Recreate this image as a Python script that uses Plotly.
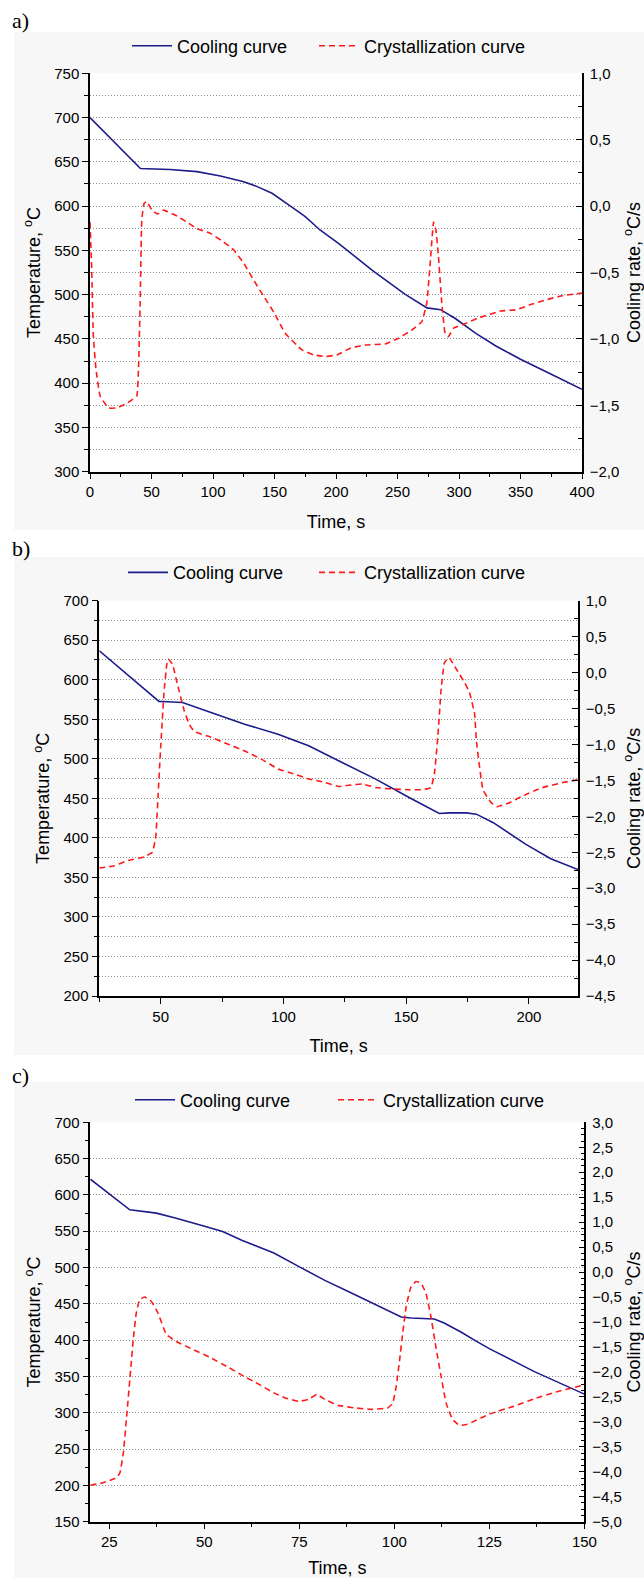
import plotly.graph_objects as go

# ---------------- data ----------------
# Panel a
ta_cool = [0, 41, 65, 87, 106, 125, 136, 148, 163, 175, 187, 202, 229, 256, 274, 285, 297, 314, 330, 350, 375, 400]
Ta_cool = [700, 642.5, 641.4, 638.9, 634, 627.5, 622, 614.5, 600, 588, 573, 558, 528, 500.5, 485, 483, 473, 456, 442, 427, 410, 393]
ta_cr = [0, 1.4, 2.7, 4.9, 8.2, 15, 21.7, 30, 38, 39.4, 40.8, 42.1, 44, 46.2, 50.3, 54.9, 59.8, 70.7, 78.8, 87, 97.8,
         108.7, 116.8, 125, 133, 141.3, 149.5, 158.7, 172.3, 181.8, 191.2, 200.7, 211.6, 223.7, 240, 250.8, 261.7,
         269.8, 273.8, 276.6, 279.3, 281.2, 283.3, 286, 288.7, 291.4, 295.5, 305, 315, 334, 347, 357, 371, 384, 400]
Ra_cr = [-0.12, -0.48, -0.98, -1.23, -1.43, -1.52, -1.52, -1.485, -1.43, -1.23, -0.73, -0.10, 0.02, 0.035, -0.03,
         -0.06, -0.03, -0.075, -0.12, -0.17, -0.205, -0.27, -0.33, -0.43, -0.556, -0.68, -0.80, -0.958, -1.083, -1.12,
         -1.133, -1.12, -1.07, -1.046, -1.038, -0.995, -0.933, -0.87, -0.73, -0.43, -0.12, -0.18, -0.38, -0.73, -0.958,
         -0.983, -0.92, -0.885, -0.845, -0.79, -0.78, -0.745, -0.705, -0.675, -0.655]

# Panel b
tb_cool = [25, 49.3, 52.7, 58.9, 70.5, 84.2, 97.8, 110.3, 123.9, 137.6, 151.2, 163.5, 167.6, 174.5, 178.6, 185.5, 198.8, 208.9, 220]
Tb_cool = [636.7, 572.6, 572.2, 571.3, 558.6, 543.8, 531.2, 516.4, 495.4, 474.3, 451.1, 430.8, 431.6, 431.6, 430, 419.2, 391.8, 373.6, 360]
tb_cr = [25, 30.9, 36.3, 43.2, 46.6, 48, 48.9, 50, 51.4, 52.5, 53, 54.8, 56.8, 59.6, 61.6, 63.7, 70.5, 77.3, 84.2, 91,
         97.8, 103.4, 110.3, 117.1, 122.6, 126.7, 132.1, 137.6, 144.4, 151.2, 156.7, 160.1, 161.5, 162.9, 164.2, 165.6,
         167.4, 170.4, 173.8, 175.8, 177.9, 178.6, 181.3, 184.6, 187.1, 192.1, 197.2, 205.5, 213.9, 220]
Rb_cr = [-2.72, -2.69, -2.62, -2.564, -2.50, -2.29, -1.74, -1.04, -0.253, 0.118, 0.188, 0.118, -0.16, -0.53, -0.717,
         -0.82, -0.90, -0.995, -1.09, -1.204, -1.34, -1.40, -1.48, -1.53, -1.585, -1.567, -1.55, -1.60, -1.62, -1.63,
         -1.63, -1.60, -1.41, -0.90, -0.25, 0.14, 0.21, 0.05, -0.14, -0.276, -0.58, -0.95, -1.63, -1.81, -1.866, -1.81,
         -1.72, -1.60, -1.53, -1.49]

# Panel c
tc_cool = [20, 30.4, 37.4, 42.6, 49.6, 54.8, 60, 65.3, 68.3, 74.8, 81.7, 88.7, 95.7, 101.8, 104.4, 110.5, 113.1, 117.5, 121.4, 125.1, 136.7, 150]
Tc_cool = [621.6, 579.5, 574.9, 568, 557.5, 549.7, 537.3, 526.8, 520, 501.6, 482.3, 464.9, 447.5, 431.9, 430.5, 429.1, 423.6, 411.3, 399, 388, 357, 325.7]
tc_cr = [20, 23.4, 26.9, 27.8, 28.7, 29.5, 30.4, 31.3, 32.1, 33, 34.3, 36.1, 37.8, 40, 42.6, 47, 51.3, 56.6, 60, 64.4,
         68.3, 71.3, 74.8, 77.4, 79.6, 81.7, 85.2, 89.6, 94, 98.3, 99.6, 100.5, 101.4, 102.2, 103.1, 104.4, 105.7, 107,
         108.3, 109.6, 110.9, 112.3, 113.6, 115.3, 117.1, 119.2, 125.1, 131.3, 136.7, 143.1, 150]
Rc_cr = [-4.27, -4.22, -4.12, -4.02, -3.62, -2.95, -2.15, -1.35, -0.82, -0.55, -0.50, -0.59, -0.82, -1.25, -1.39, -1.55,
         -1.70, -1.92, -2.07, -2.25, -2.42, -2.52, -2.59, -2.55, -2.45, -2.55, -2.67, -2.72, -2.75, -2.72, -2.62, -2.28,
         -1.75, -1.22, -0.69, -0.29, -0.19, -0.22, -0.42, -0.885, -1.49, -2.09, -2.62, -2.95, -3.07, -3.05, -2.84, -2.69,
         -2.54, -2.39, -2.26]

panel_labels = ["a)", "b)", "c)"]
names = ["Cooling curve", "Crystallization curve"]
x_title = "Time, s"
yl_title = "Temperature, <sup>o</sup>C"
yr_title = "Cooling rate, <sup>o</sup>C/s"

W, H = 644, 1578
BLUE = "#1c1c8a"
RED = "#ff1a1a"
GRID = "#8c8c8c"
FONT = "Liberation Sans, Arial, sans-serif"


def px_x(p):
    return p / W


def px_y(p):
    return 1 - p / H


panels = [
    dict(tc=ta_cool, Tc=Ta_cool, tr=ta_cr, Rr=Ra_cr, xr=[0, 400], xd=50, xm=25, yl=[300, 750], ym=25, yr=[-2, 1],
         rm=0.25, gridminor=True, xpx=(90, 582), ypx=(73.3, 471.7), leg_y=46, lab_y=21, leg_x=(177, 364), rstand=14),
    dict(tc=tb_cool, Tc=Tb_cool, tr=tb_cr, Rr=Rb_cr, xr=[25, 220], xd=50, xm=25, yl=[200, 700], ym=25, yr=[-4.5, 1],
         rm=0.25, gridminor=True, xpx=(99.3, 578), ypx=(600.7, 996), leg_y=572.7, lab_y=548, leg_x=(173, 364), rstand=14),
    dict(tc=tc_cool, Tc=Tc_cool, tr=tc_cr, Rr=Rc_cr, xr=[20, 150], xd=25, xm=12.5, yl=[150, 700], ym=25, yr=[-5, 3],
         rm=0.125, gridminor=False, xpx=(90.3, 584.4), ypx=(1122.3, 1521.7), leg_y=1100, lab_y=1075, leg_x=(180, 383),
         rstand=19),
]

bg_boxes = [(14, 32, 644, 530), (14, 557, 644, 1055), (14, 1082, 644, 1578)]
TEXT_OFFSET = 50  # legend x -> label text start

fig = go.Figure()
layout = dict(
    template="none",
    width=W, height=H, margin=dict(l=0, r=0, t=0, b=0, autoexpand=False),
    paper_bgcolor="white", plot_bgcolor="white",
    font=dict(family=FONT, size=15, color="black"),
    separators=", ",
    showlegend=True,
    shapes=[], annotations=[],
)

for i, p in enumerate(panels):
    n = i + 1
    xa = "x" if n == 1 else f"x{n}"
    yL = 2 * i + 1
    yR = 2 * i + 2
    yLname = "y" if yL == 1 else f"y{yL}"
    yRname = f"y{yR}"
    legA = "legend" if (2 * i + 1) == 1 else f"legend{2 * i + 1}"
    legB = f"legend{2 * i + 2}"

    fig.add_trace(go.Scatter(x=p["tc"], y=p["Tc"], mode="lines", name=names[0], showlegend=True,
                             line=dict(color=BLUE, width=1.6),
                             xaxis=xa, yaxis=yLname, legend=legA))
    fig.add_trace(go.Scatter(x=p["tr"], y=p["Rr"], mode="lines", name=names[1], showlegend=True,
                             line=dict(color=RED, width=1.6, dash="6px,4px", shape="spline", smoothing=0.3),
                             xaxis=xa, yaxis=yRname, legend=legB))

    xdom = [px_x(p["xpx"][0]), px_x(p["xpx"][1])]
    ydom = [px_y(p["ypx"][1]), px_y(p["ypx"][0])]

    xkey = "xaxis" if n == 1 else f"xaxis{n}"
    layout[xkey] = dict(
        domain=xdom, anchor=yLname, range=p["xr"], tick0=0, dtick=p["xd"], automargin=False,
        showline=True, linecolor="black", linewidth=1.5, mirror=False,
        ticks="outside", ticklen=6, tickwidth=1.2, tickcolor="black",
        minor=dict(dtick=p["xm"], tick0=0, ticks="outside", ticklen=4, tickwidth=1.2, tickcolor="black", showgrid=False),
        showgrid=False, zeroline=False,
        tickfont=dict(size=15),
        title=dict(text=x_title, font=dict(size=18), standoff=16),
    )
    lkey = "yaxis" if yL == 1 else f"yaxis{yL}"
    layout[lkey] = dict(
        domain=ydom, anchor=xa, range=p["yl"], dtick=50, tick0=0, automargin=False,
        showline=True, linecolor="black", linewidth=1.5,
        ticks="outside", ticklen=6, tickwidth=1.2, tickcolor="black",
        showgrid=True, gridcolor=GRID, griddash="1px,2px", gridwidth=1,
        minor=dict(dtick=p["ym"], tick0=0, ticks="outside", ticklen=4, tickwidth=1.2, tickcolor="black",
                   showgrid=p["gridminor"], gridcolor=GRID, griddash="1px,2px", gridwidth=1),
        zeroline=False, tickfont=dict(size=15),
        title=dict(text=yl_title, font=dict(size=18), standoff=9),
    )
    rkey = f"yaxis{yR}"
    layout[rkey] = dict(
        overlaying=yLname, side="right", anchor=xa, range=p["yr"], dtick=0.5, tick0=0, tickformat=".1f",
        automargin=False,
        showline=True, linecolor="black", linewidth=1.5,
        ticks="inside", ticklen=6, tickwidth=1.2, tickcolor="black",
        minor=dict(dtick=p["rm"], tick0=0, ticks="inside", ticklen=4, tickwidth=1.2, tickcolor="black", showgrid=False),
        showgrid=False, zeroline=False, tickfont=dict(size=15), ticklabelstandoff=3,
        title=dict(text=yr_title, font=dict(size=18), standoff=p["rstand"]),
    )
    for leg, tx in ((legA, p["leg_x"][0]), (legB, p["leg_x"][1])):
        layout[leg] = dict(
            visible=True,
            orientation="h", x=px_x(tx - TEXT_OFFSET), xanchor="left", y=px_y(p["leg_y"]), yanchor="middle",
            font=dict(size=18), bgcolor="rgba(0,0,0,0)", itemwidth=40, borderwidth=0,
        )
    layout["annotations"].append(dict(
        text=panel_labels[i], x=px_x(10), y=px_y(p["lab_y"]), xref="paper", yref="paper",
        xanchor="left", yanchor="middle", showarrow=False,
        font=dict(family="Liberation Serif, Times New Roman, serif", size=22, color="black"),
    ))
    bx = bg_boxes[i]
    layout["shapes"].append(dict(
        type="rect", xref="paper", yref="paper", x0=px_x(bx[0]), x1=px_x(bx[2]), y0=px_y(bx[3]), y1=px_y(bx[1]),
        fillcolor="#f7f7f7", line=dict(width=0), layer="below",
    ))
    layout["shapes"].append(dict(
        type="rect", xref="paper", yref="paper", x0=xdom[0], x1=xdom[1], y0=ydom[0], y1=ydom[1],
        fillcolor="white", line=dict(width=0), layer="below",
    ))

fig.update_layout(**layout)
fig.write_html("out.html", config={"displayModeBar": False},
               post_script="document.body.style.margin='0';document.body.style.overflow='hidden';")
